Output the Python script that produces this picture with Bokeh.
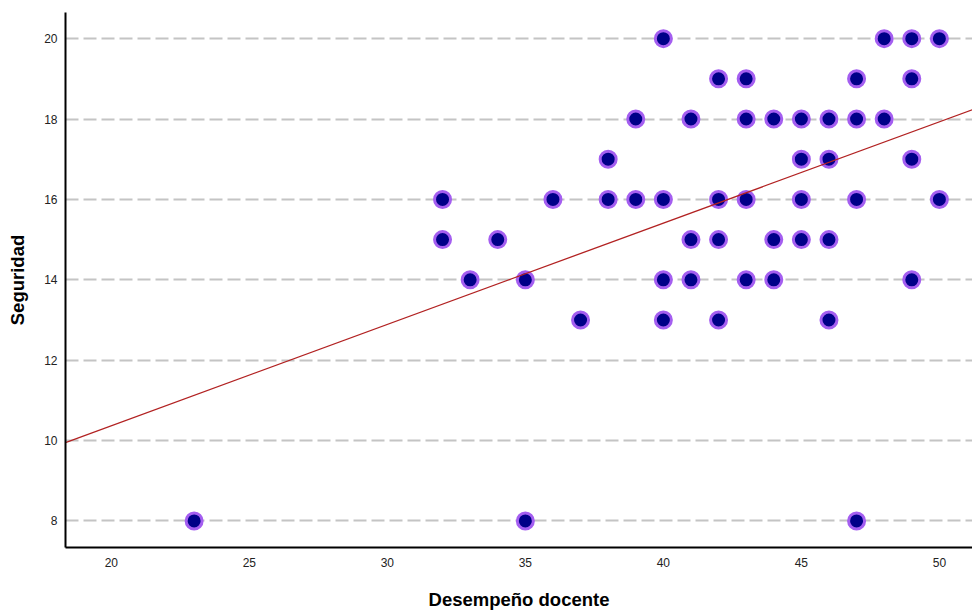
from bokeh.plotting import figure
from bokeh.models import Range1d, FixedTicker, ColumnDataSource
from bokeh.embed import file_html
from bokeh.resources import INLINE

# Data: (Desempeño docente, Seguridad)
desempeno = [40, 48, 49, 50,
             42, 43, 47, 49,
             39, 41, 43, 44, 45, 46, 47, 48,
             38, 45, 46, 49,
             32, 36, 38, 39, 40, 42, 43, 45, 47, 50,
             32, 34, 41, 42, 44, 45, 46,
             33, 35, 40, 41, 43, 44, 49,
             37, 40, 42, 46,
             23, 35, 47]
seguridad = [20, 20, 20, 20,
             19, 19, 19, 19,
             18, 18, 18, 18, 18, 18, 18, 18,
             17, 17, 17, 17,
             16, 16, 16, 16, 16, 16, 16, 16, 16, 16,
             15, 15, 15, 15, 15, 15, 15,
             14, 14, 14, 14, 14, 14, 14,
             13, 13, 13, 13,
             8, 8, 8]

# Fit line: Seguridad = intercept + slope * Desempeño
fit_intercept = 5.33
fit_slope = 0.252

x_ticks = [20, 25, 30, 35, 40, 45, 50]
y_ticks = [8, 10, 12, 14, 16, 18, 20]

x_min, x_max = 18.34, 51.2
y_min, y_max = 7.34, 20.65

p = figure(width=972, height=612, output_backend="svg", toolbar_location=None,
           x_range=Range1d(x_min, x_max), y_range=Range1d(y_min, y_max),
           min_border_left=65, min_border_bottom=65, min_border_top=12,
           min_border_right=0)
p.outline_line_color = None
p.background_fill_color = "white"
p.border_fill_color = "white"

p.xgrid.grid_line_color = None
p.ygrid.grid_line_color = "#c4c4c4"
p.ygrid.grid_line_width = 2
p.ygrid.grid_line_dash = "13 5"

for ax in (p.xaxis[0], p.yaxis[0]):
    ax.axis_line_color = "black"
    ax.axis_line_width = 2
    ax.major_tick_line_color = None
    ax.minor_tick_line_color = None
    ax.major_tick_out = 0
    ax.major_tick_in = 0
    ax.major_label_text_font = "Liberation Sans"
    ax.major_label_text_font_size = "12px"
    ax.major_label_text_color = "#222222"
    ax.axis_label_text_font = "Liberation Sans"
    ax.axis_label_text_font_size = "18.5px"
    ax.axis_label_text_font_style = "bold"
    ax.axis_label_text_color = "black"

p.xaxis[0].ticker = FixedTicker(ticks=x_ticks)
p.yaxis[0].ticker = FixedTicker(ticks=y_ticks)
p.xaxis[0].axis_label = "Desempeño docente"
p.yaxis[0].axis_label = "Seguridad"
p.xaxis[0].major_label_standoff = 10
p.xaxis[0].axis_label_standoff = 19
p.yaxis[0].major_label_standoff = 8
p.yaxis[0].axis_label_standoff = 13

src = ColumnDataSource(data=dict(x=desempeno, y=seguridad))
p.scatter("x", "y", source=src, size=16, fill_color="#000088",
          line_color="#a45ef0", line_width=3)

line_x = [x_min, x_max]
line_y = [fit_intercept + fit_slope * v for v in line_x]
p.line(line_x, line_y, line_color="#b22222", line_width=1.3)

open("out.html", "w").write(file_html(p, INLINE))
